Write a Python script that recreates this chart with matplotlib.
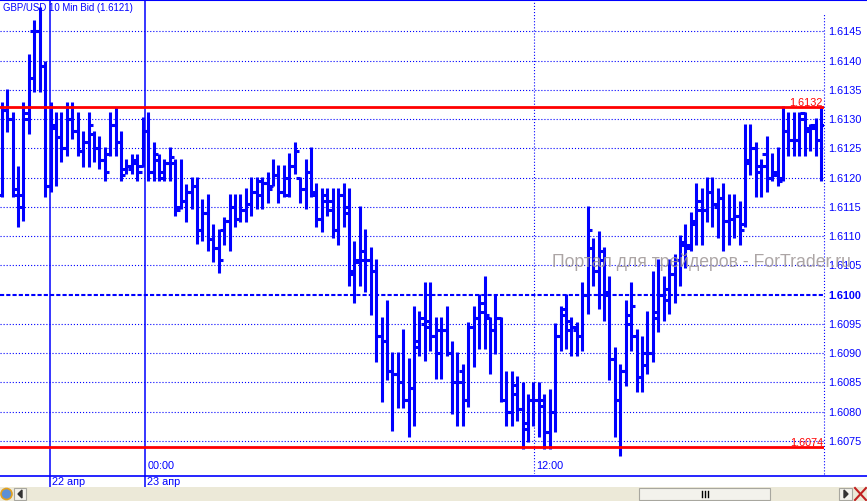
import matplotlib
matplotlib.use('Agg')
import matplotlib.pyplot as plt
from matplotlib.patches import Rectangle, Polygon, Ellipse
from matplotlib.lines import Line2D
import numpy as np

plt.rcParams['font.family'] = ['Liberation Sans', 'DejaVu Sans']
plt.rcParams['lines.scale_dashes'] = False

# GBP/USD 10 min bars (bid)
opens = [1.61170, 1.61315, 1.61300, 1.61170, 1.61170, 1.61300, 1.61450, 1.61450, 1.61390, 1.61185,
         1.61285, 1.61270, 1.61250, 1.61300, 1.61280, 1.61245, 1.61260, 1.61275, 1.61250, 1.61230,
         1.61240, 1.61290, 1.61260, 1.61215, 1.61215, 1.61225, 1.61220, 1.61280, 1.61210, 1.61230,
         1.61210, 1.61225, 1.61225, 1.61150, 1.61160, 1.61175, 1.61185, 1.61110, 1.61140, 1.61095,
         1.61080, 1.61110, 1.61125, 1.61150, 1.61130, 1.61145, 1.61155, 1.61175, 1.61170, 1.61190,
         1.61185, 1.61205, 1.61175, 1.61170, 1.61220, 1.61200, 1.61180, 1.61210, 1.61175, 1.61130,
         1.61170, 1.61160, 1.61110, 1.61170, 1.61140, 1.61040, 1.61060, 1.61075, 1.61060, 1.61040,
         1.60930, 1.60920, 1.60870, 1.60865, 1.60850, 1.60820, 1.60840, 1.60920, 1.60950, 1.60955,
         1.60930, 1.60940, 1.60940, 1.60900, 1.60850, 1.60870, 1.60820, 1.60945, 1.60960, 1.60970,
         1.60960, 1.60940, 1.60960, 1.60820, 1.60800, 1.60830, 1.60805, 1.60770, 1.60820, 1.60820,
         1.60810, 1.60765, 1.60800, 1.60930, 1.60975, 1.60955, 1.60940, 1.60930, 1.61000, 1.61080,
         1.61040, 1.61075, 1.61000, 1.60890, 1.60820, 1.60870, 1.60950, 1.60930, 1.60860, 1.60880,
         1.60900, 1.60960, 1.61000, 1.61010, 1.61035, 1.61060, 1.61090, 1.61080, 1.61120, 1.61145,
         1.61145, 1.61175, 1.61150, 1.61165, 1.61125, 1.61130, 1.61135, 1.61120, 1.61225, 1.61250,
         1.61220, 1.61240, 1.61200, 1.61205, 1.61200, 1.61280, 1.61265, 1.61265, 1.61310, 1.61280,
         1.61285, 1.61265]
highs = [1.61330, 1.61351, 1.61312, 1.61220, 1.61330, 1.61411, 1.61470, 1.61491, 1.61399, 1.61330,
         1.61312, 1.61312, 1.61330, 1.61330, 1.61312, 1.61279, 1.61312, 1.61279, 1.61271, 1.61252,
         1.61312, 1.61320, 1.61279, 1.61232, 1.61240, 1.61240, 1.61303, 1.61312, 1.61261, 1.61240,
         1.61232, 1.61252, 1.61232, 1.61232, 1.61189, 1.61201, 1.61201, 1.61163, 1.61172, 1.61121,
         1.61112, 1.61133, 1.61172, 1.61172, 1.61172, 1.61182, 1.61201, 1.61201, 1.61201, 1.61209,
         1.61232, 1.61221, 1.61221, 1.61242, 1.61261, 1.61201, 1.61232, 1.61252, 1.61191, 1.61182,
         1.61182, 1.61182, 1.61182, 1.61191, 1.61182, 1.61092, 1.61151, 1.61112, 1.61081, 1.61061,
         1.60962, 1.60991, 1.60902, 1.60902, 1.60941, 1.60892, 1.60981, 1.60972, 1.61022, 1.61022,
         1.60962, 1.60962, 1.60981, 1.60921, 1.60902, 1.60882, 1.60953, 1.60981, 1.61001, 1.61032,
         1.60962, 1.61001, 1.60962, 1.60870, 1.60870, 1.60861, 1.60851, 1.60831, 1.60851, 1.60851,
         1.60831, 1.60839, 1.60952, 1.60981, 1.61001, 1.60962, 1.60953, 1.61022, 1.61151, 1.61097,
         1.61109, 1.61081, 1.61032, 1.60911, 1.60882, 1.60991, 1.61022, 1.60941, 1.60930, 1.60972,
         1.61040, 1.61061, 1.61032, 1.61061, 1.61069, 1.61102, 1.61121, 1.61141, 1.61191, 1.61182,
         1.61201, 1.61201, 1.61182, 1.61191, 1.61172, 1.61172, 1.61160, 1.61291, 1.61291, 1.61261,
         1.61232, 1.61271, 1.61242, 1.61252, 1.61322, 1.61312, 1.61312, 1.61312, 1.61312, 1.61291,
         1.61302, 1.61322]
lows = [1.61167, 1.61278, 1.61167, 1.61116, 1.61126, 1.61274, 1.61346, 1.61346, 1.61167, 1.61175,
        1.61185, 1.61226, 1.61237, 1.61266, 1.61237, 1.61218, 1.61218, 1.61226, 1.61215, 1.61194,
        1.61237, 1.61237, 1.61194, 1.61206, 1.61206, 1.61194, 1.61218, 1.61194, 1.61194, 1.61194,
        1.61194, 1.61194, 1.61134, 1.61146, 1.61124, 1.61146, 1.61087, 1.61092, 1.61075, 1.61056,
        1.61037, 1.61085, 1.61075, 1.61116, 1.61124, 1.61124, 1.61134, 1.61146, 1.61146, 1.61156,
        1.61185, 1.61156, 1.61167, 1.61167, 1.61206, 1.61156, 1.61146, 1.61167, 1.61116, 1.61107,
        1.61134, 1.61097, 1.61085, 1.61116, 1.61015, 1.60986, 1.61015, 1.61005, 1.60965, 1.60885,
        1.60817, 1.60854, 1.60767, 1.60807, 1.60807, 1.60757, 1.60776, 1.60895, 1.60887, 1.60904,
        1.60856, 1.60856, 1.60895, 1.60796, 1.60776, 1.60776, 1.60808, 1.60877, 1.60907, 1.60907,
        1.60865, 1.60899, 1.60817, 1.60776, 1.60776, 1.60784, 1.60737, 1.60749, 1.60776, 1.60757,
        1.60737, 1.60737, 1.60766, 1.60904, 1.60907, 1.60895, 1.60895, 1.60904, 1.60967, 1.61015,
        1.60976, 1.60955, 1.60854, 1.60757, 1.60725, 1.60844, 1.60904, 1.60834, 1.60834, 1.60865,
        1.60885, 1.60936, 1.60955, 1.60967, 1.60986, 1.61015, 1.61046, 1.61075, 1.61085, 1.61085,
        1.61124, 1.61116, 1.61097, 1.61075, 1.61085, 1.61097, 1.61085, 1.61116, 1.61204, 1.61167,
        1.61167, 1.61175, 1.61194, 1.61185, 1.61194, 1.61237, 1.61237, 1.61237, 1.61237, 1.61245,
        1.61237, 1.61194]
closes = [1.61315, 1.61300, 1.61180, 1.61150, 1.61310, 1.61370, 1.61450, 1.61390, 1.61185, 1.61290,
          1.61270, 1.61250, 1.61300, 1.61280, 1.61245, 1.61260, 1.61290, 1.61250, 1.61230, 1.61210,
          1.61290, 1.61260, 1.61205, 1.61220, 1.61230, 1.61210, 1.61280, 1.61210, 1.61240, 1.61200,
          1.61225, 1.61235, 1.61145, 1.61160, 1.61175, 1.61185, 1.61110, 1.61140, 1.61095, 1.61080,
          1.61060, 1.61125, 1.61150, 1.61130, 1.61145, 1.61155, 1.61175, 1.61195, 1.61190, 1.61180,
          1.61205, 1.61175, 1.61200, 1.61220, 1.61245, 1.61180, 1.61210, 1.61170, 1.61130, 1.61160,
          1.61145, 1.61110, 1.61170, 1.61150, 1.61035, 1.61055, 1.61060, 1.61060, 1.61040, 1.60930,
          1.60920, 1.60870, 1.60865, 1.60850, 1.60820, 1.60840, 1.60910, 1.60960, 1.60945, 1.60930,
          1.60900, 1.60940, 1.60900, 1.60850, 1.60850, 1.60820, 1.60945, 1.60960, 1.60985, 1.60965,
          1.60940, 1.60960, 1.60820, 1.60800, 1.60845, 1.60805, 1.60780, 1.60820, 1.60820, 1.60820,
          1.60765, 1.60800, 1.60930, 1.60965, 1.60940, 1.60945, 1.60930, 1.61000, 1.61110, 1.61040,
          1.61060, 1.61005, 1.60890, 1.60820, 1.60870, 1.60965, 1.60980, 1.60860, 1.60900, 1.60900,
          1.60970, 1.61000, 1.60990, 1.61035, 1.61060, 1.61085, 1.61085, 1.61125, 1.61160, 1.61145,
          1.61175, 1.61155, 1.61165, 1.61125, 1.61130, 1.61135, 1.61110, 1.61230, 1.61250, 1.61210,
          1.61220, 1.61200, 1.61210, 1.61195, 1.61280, 1.61265, 1.61265, 1.61300, 1.61285, 1.61290,
          1.61265, 1.61290]

price_ticks = [1.6075, 1.6080, 1.6085, 1.6090, 1.6095, 1.6100, 1.6105, 1.6110,
               1.6115, 1.6120, 1.6125, 1.6130, 1.6135, 1.6140, 1.6145]
current_level = 1.6100
red_levels = [1.6132, 1.6074]

# bar positions of the separators
day_lines = [8.9, 26.4]
day_labels = ['22 апр', '23 апр']
time_marks = [26.4, 98.1]
time_labels = ['00:00', '12:00']

title = 'GBP/USD 10 Min Bid (1.6121)'
watermark = 'Портал для трейдеров - ForTrader.ru'

BLUE = '#0000FF'
RED = '#FF0000'
W, H = 867, 502

fig = plt.figure(figsize=(W / 100, H / 100), dpi=100)
fig.patch.set_facecolor('white')
ax = fig.add_axes([0, 27 / H, 824 / W, 473 / H])
ax.set_xlim(-0.313, 151.55)
ax.set_ylim(1.606935, 1.615018)
ax.axis('off')

x = np.arange(len(highs))

# grid + price scale
for p in price_ticks:
    cur = abs(p - current_level) < 1e-9
    if cur:
        ax.axhline(p, color=BLUE, lw=1.5, dashes=(3, 1.5), zorder=1)
    else:
        ax.axhline(p, color=BLUE, lw=0.8, dashes=(0.8, 1.4), zorder=1)
    ax.text(1 + 4 / 824, p, f'{p:.4f}', transform=ax.get_yaxis_transform(),
            color=BLUE, fontsize=7.8, va='center', ha='left', clip_on=False,
            fontweight='bold' if cur else 'normal')

# day / time separators
for d, lab in zip(day_lines, day_labels):
    ax.axvline(d, ymin=-13 / 473, ymax=1.01, color=BLUE, lw=1.1, zorder=1, clip_on=False)
    ax.text(d + 0.45, -7.5 / 473, lab, transform=ax.get_xaxis_transform(), color=BLUE,
            fontsize=7.8, va='center', ha='left', clip_on=False, zorder=8)
ax.axvline(time_marks[1], color=BLUE, lw=0.8, dashes=(0.8, 1.4), zorder=1)
ax.axvline(151.55, ymax=0.975, color=BLUE, lw=0.8, dashes=(0.8, 1.4), zorder=1, clip_on=False)
for t, lab in zip(time_marks, time_labels):
    ax.text(t + 0.45, 9 / 473, lab, transform=ax.get_xaxis_transform(), color=BLUE,
            fontsize=7.8, va='center', ha='left')

ax.text(3 / 824, 1 - 6 / 473, title, transform=ax.transAxes, color=BLUE,
        fontsize=6.9, va='center', ha='left', zorder=2)

# red levels
for r in red_levels:
    ax.axhline(r, color=RED, lw=2.0, zorder=4)
    ax.text(823 / 824, r, f'{r:.4f}', transform=ax.get_yaxis_transform(), color=RED,
            fontsize=7.8, va='bottom', ha='right', zorder=4)

# OHLC bars
ax.vlines(x, lows, highs, color=BLUE, lw=2.2, zorder=3)
ax.hlines(opens, x - 0.8, x, color=BLUE, lw=2.2, zorder=3)
ax.hlines(closes, x, x + 0.8, color=BLUE, lw=2.2, zorder=3)

fig.text(552 / W, 1 - 267 / H, watermark, color='#9E9696', alpha=0.85,
         fontsize=12.7, ha='left', va='baseline', zorder=6)

# frame lines
fig.add_artist(Line2D([0, 1], [1 - 1 / H, 1 - 1 / H], color=BLUE, lw=1.5))
fig.add_artist(Line2D([0, 1], [1 - 476.5 / H, 1 - 476.5 / H], color=BLUE, lw=1.2))


def px_rect(x0, y0, w, h, **kw):
    r = Rectangle((x0 / W, 1 - (y0 + h) / H), w / W, h / H,
                  transform=fig.transFigure, **kw)
    fig.add_artist(r)


# scrollbar strip
px_rect(0, 488, W, 14, facecolor='#ECE9D8', edgecolor='none', zorder=4)
px_rect(639, 489, 131, 12, facecolor='#F3F2EC', edgecolor='#A8A79F', lw=0.8, zorder=5)
for gx in [702, 705, 708]:
    fig.add_artist(Line2D([gx / W, gx / W], [1 - 492 / H, 1 - 498 / H], color='black', lw=1.0, zorder=6))
px_rect(14, 489, 12, 12, facecolor='#F3F2EC', edgecolor='#A8A79F', lw=0.8, zorder=5)
fig.add_artist(Polygon([[18 / W, 1 - 495 / H], [22 / W, 1 - 491 / H], [22 / W, 1 - 499 / H]],
                       closed=True, transform=fig.transFigure, color='#333333', zorder=6))
px_rect(839, 489, 13, 12, facecolor='#F3F2EC', edgecolor='#A8A79F', lw=0.8, zorder=5)
fig.add_artist(Polygon([[848 / W, 1 - 495 / H], [844 / W, 1 - 491 / H], [844 / W, 1 - 499 / H]],
                       closed=True, transform=fig.transFigure, color='#333333', zorder=6))
fig.add_artist(Line2D([855 / W, 866 / W], [1 - 489 / H, 1 - 501 / H], color='#C02020', lw=1.5, zorder=6))
fig.add_artist(Line2D([855 / W, 866 / W], [1 - 501 / H, 1 - 489 / H], color='#C02020', lw=1.5, zorder=6))
fig.add_artist(Ellipse((6.5 / W, 1 - 495 / H), 11 / W, 11 / H, transform=fig.transFigure,
                       facecolor='#5C8FD6', edgecolor='#E0A020', lw=1.2, zorder=6))

fig.savefig('out.png', dpi=100, facecolor='white')
